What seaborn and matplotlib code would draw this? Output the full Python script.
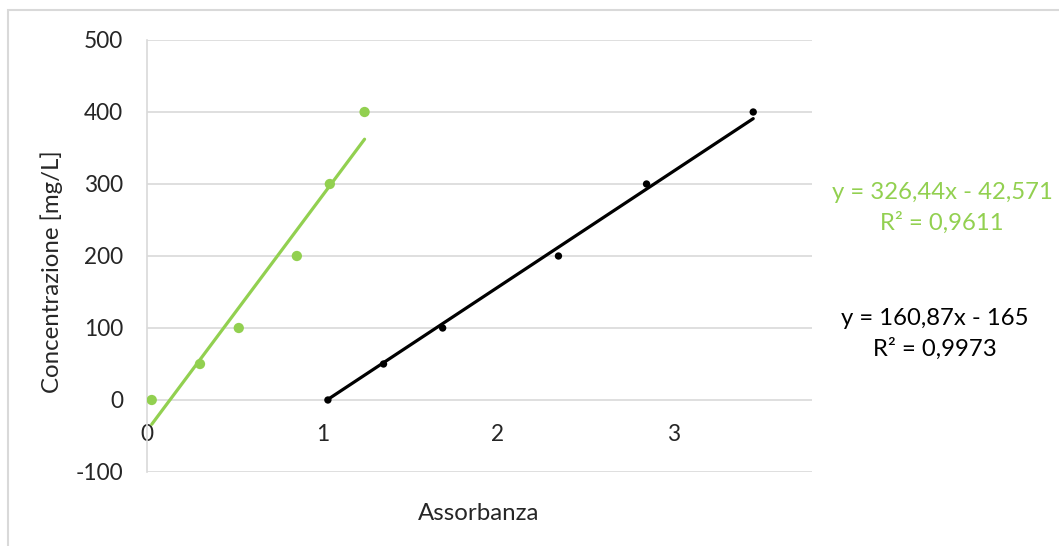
import numpy as np
import pandas as pd
import seaborn as sns
import matplotlib.pyplot as plt
from matplotlib.patches import Rectangle

# Calibration data: concentration standards and measured absorbance
concentration = [0, 50, 100, 200, 300, 400]
absorbance_green = [0.027, 0.302, 0.523, 0.854, 1.042, 1.240]
absorbance_black = [1.031, 1.348, 1.685, 2.345, 2.847, 3.455]

# Linear trendline coefficients and R² for each series
slopes = [326.44, 160.87]
intercepts = [-42.571, -165.0]
r_squared = [0.9611, 0.9973]
equation_labels = ["y = 326,44x - 42,571\nR² = 0,9611",
                   "y = 160,87x - 165\nR² = 0,9973"]

x_ticks = [0, 1, 2, 3]
y_ticks = [-100, 0, 100, 200, 300, 400, 500]

GREEN = "#92D050"
BLACK = "#000000"
GRID = "#D9D9D9"
TEXT = "#262626"

sns.set_theme(style="white")
plt.rcParams["font.family"] = ["Lato", "DejaVu Sans"]

W, H = 1059, 546
fig = plt.figure(figsize=(W / 100, H / 100), dpi=100)
ax = fig.add_axes([147 / W, 1 - 472 / H, (812 - 147) / W, (472 - 40) / H])

series = [
    (absorbance_green, GREEN, 55),
    (absorbance_black, BLACK, 28),
]

for (absorb, color, size), m, q in zip(series, slopes, intercepts):
    df = pd.DataFrame({"Assorbanza": absorb, "Concentrazione": concentration})
    sns.scatterplot(data=df, x="Assorbanza", y="Concentrazione", ax=ax,
                    color=color, s=size, edgecolor="none", legend=False,
                    zorder=3)
    xs = np.array([min(absorb), max(absorb)])
    fit = pd.DataFrame({"x": xs, "y": m * xs + q})
    sns.lineplot(data=fit, x="x", y="y", ax=ax, color=color, linewidth=2.3,
                 legend=False, zorder=2)

ax.set_xlim(0, 3.79)
ax.set_ylim(-100, 500)
ax.set_xticks(x_ticks)
ax.set_yticks(y_ticks)
ax.set_xticklabels([str(v) for v in x_ticks])
ax.set_yticklabels([str(v) for v in y_ticks])
ax.set_xlabel("")
ax.set_ylabel("")

ax.set_axisbelow(True)
ax.yaxis.grid(True, color=GRID, linewidth=1.2)
ax.xaxis.grid(False)

for side in ["top", "right"]:
    ax.spines[side].set_visible(False)
ax.spines["left"].set_color(GRID)
ax.spines["left"].set_linewidth(1.2)
ax.spines["bottom"].set_position(("data", 0))
ax.spines["bottom"].set_visible(False)

ax.tick_params(axis="both", length=0, labelsize=16.3, labelcolor=TEXT)
ax.tick_params(axis="x", pad=17)
ax.tick_params(axis="y", pad=17)

fig.text(52 / W, 1 - 272 / H, "Concentrazione [mg/L]", rotation=90,
         ha="center", va="center", fontsize=17.3, color=TEXT)
fig.text(479 / W, 1 - 514 / H, "Assorbanza", ha="center", va="center",
         fontsize=17.3, color=TEXT)

fig.text(942 / W, 1 - 208 / H, equation_labels[0], ha="center", va="center",
         multialignment="center", fontsize=17.2, color=GREEN, linespacing=1.5)
fig.text(935 / W, 1 - 334 / H, equation_labels[1], ha="center", va="center",
         multialignment="center", fontsize=17.2, color=BLACK, linespacing=1.5)

# Light chart-area frame
fig.patches.append(Rectangle((8 / W, -0.05), 1.2, (H - 10) / H + 0.05,
                             transform=fig.transFigure, fill=False,
                             edgecolor=GRID, linewidth=1.5))

fig.savefig("out.png", dpi=100, facecolor="white")
